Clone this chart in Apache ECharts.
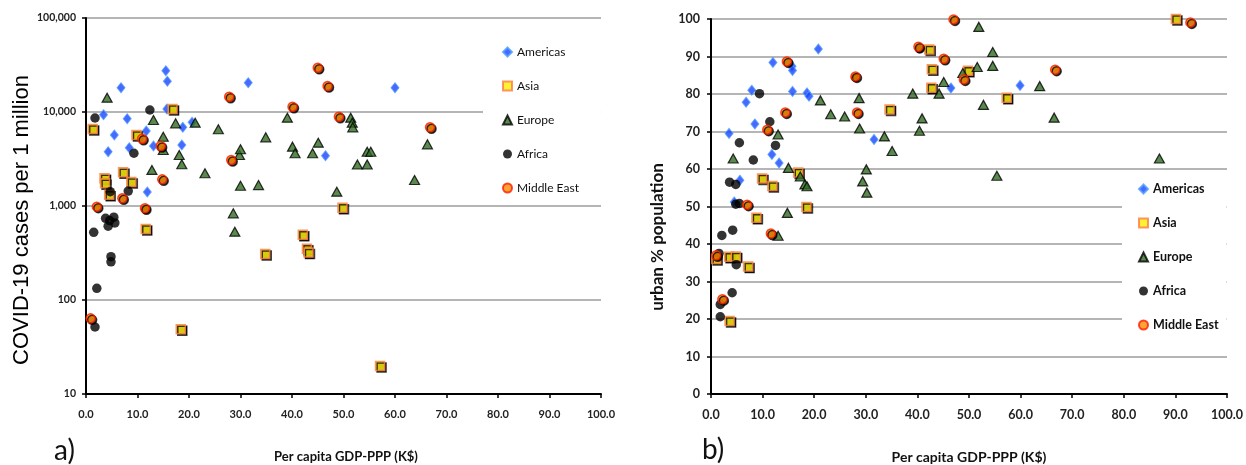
<!DOCTYPE html>
<html>
<head>
<meta charset="utf-8">
<script src="https://cdn.jsdelivr.net/npm/echarts@6/dist/echarts.min.js"></script>
<style>
html,body{margin:0;padding:0;background:#fff;}
#chart{width:1246px;height:465px;}
</style>
</head>
<body>
<div id="chart"></div>
<script>
// ---------- DATA ----------
const regions = ['Americas', 'Asia', 'Europe', 'Africa', 'Middle East'];
const xTickLabels = ['0.0','10.0','20.0','30.0','40.0','50.0','60.0','70.0','80.0','90.0','100.0'];
const leftYTickLabels = ['10','100','1,000','10,000','100,000'];
const rightYTickLabels = ['0','10','20','30','40','50','60','70','80','90','100'];

// panel a) : [GDP-PPP (K$), COVID-19 cases per 1 million]
const casesAmericas = [[3.4,9350],[6.8,18150],[4.3,3780],[5.5,5690],[8.0,8490],[8.4,4170],[11.7,6280],[13.1,4350],[11.9,1410],[15.5,27500],[15.8,21200],[15.7,10760],[18.8,6870],[18.6,4460],[20.6,7770],[31.5,20500],[60.0,18150],[46.5,3430]];
const casesAsia = [[1.3,6590],[3.6,1970],[3.7,1750],[4.5,1320],[9.8,5690],[7.2,2280],[8.8,1800],[16.8,10760],[11.6,569],[18.4,48.8],[34.8,308],[42.1,495],[42.9,350],[43.2,320],[49.8,960],[57.1,19.9]];
const casesEurope = [[4.1,14200],[13.1,8220],[15.0,5460],[15.0,3940],[12.8,2420],[17.4,7580],[18.1,3490],[18.6,2780],[21.2,7700],[23.1,2230],[25.7,6550],[28.6,836],[28.9,533],[29.8,3490],[30.0,4010],[30.0,1640],[33.5,1670],[34.9,5380],[39.1,8700],[40.1,4280],[40.6,3640],[44.0,3640],[45.1,4720],[51.4,8700],[51.7,7700],[51.8,6870],[54.6,3780],[55.3,3780],[52.7,2760],[54.6,2760],[48.7,1420],[63.8,1890],[66.3,4530]];
const casesAfrica = [[1.75,8630],[12.4,10500],[9.3,3640],[4.7,1420],[8.2,1440],[1.5,525],[3.8,740],[4.3,610],[4.6,700],[5.4,760],[5.6,660],[4.85,289],[4.85,255],[2.1,133],[1.75,51.6],[11.6,920]];
const casesMiddleEast = [[2.1,984],[7.05,1208],[10.9,5200],[14.5,4350],[14.8,1920],[11.45,945],[27.8,14550],[28.2,3090],[40.1,11380],[45.0,29600],[46.9,18900],[0.9,63.8],[49.1,8920],[66.8,6870]];

// panel b) : [GDP-PPP (K$), urban % population]
const urbanAmericas = [[3.5,69.5],[7.9,81.0],[6.8,77.8],[8.5,72.0],[12.0,88.4],[11.8,63.9],[13.2,61.6],[15.7,87.4],[15.8,86.3],[15.8,80.7],[18.6,80.3],[19.0,79.4],[20.8,92.0],[31.6,67.9],[5.6,57.0],[4.5,51.2],[46.5,81.6],[59.9,82.3]];
const urbanAsia = [[9.9,57.5],[11.9,55.5],[8.8,47.0],[16.9,59.1],[18.5,49.9],[34.6,75.9],[42.3,91.9],[42.8,86.6],[42.7,81.7],[49.8,86.2],[57.3,79.0],[90.1,100],[1.0,36.0],[3.5,36.6],[4.8,36.7],[7.2,34.0],[3.6,19.5]];
const urbanEurope = [[4.3,62.8],[13.0,69.2],[13.0,42.2],[14.8,48.3],[15.0,60.3],[17.3,58.0],[18.2,55.9],[18.6,55.4],[21.2,78.3],[23.2,74.6],[25.9,74.0],[28.7,78.9],[28.8,70.8],[30.1,59.9],[29.4,56.7],[30.2,53.7],[33.6,68.7],[35.1,64.8],[39.1,80.1],[40.4,70.2],[40.9,73.5],[51.9,97.9],[54.6,91.2],[54.6,87.5],[51.6,87.2],[48.8,85.6],[45.1,83.2],[44.2,80.1],[52.8,77.1],[63.7,82.1],[66.5,73.7],[55.4,58.2],[86.9,62.8]];
const urbanAfrica = [[9.4,80.1],[11.4,72.6],[12.5,66.3],[5.5,67.0],[8.2,62.4],[3.6,56.5],[4.8,55.9],[4.8,50.6],[5.5,50.8],[2.1,42.3],[4.2,43.7],[1.55,37.5],[4.9,34.5],[4.1,27.0],[1.8,23.9],[1.8,20.6],[40.4,92.1],[28.0,84.4]];
const urbanMiddleEast = [[14.7,88.7],[10.9,70.5],[14.4,75.1],[28.0,84.7],[28.3,75.1],[40.2,92.6],[7.0,50.5],[11.6,42.8],[1.0,37.0],[2.2,25.3],[47.0,99.9],[45.1,89.4],[49.0,83.9],[66.7,86.5],[92.9,99.1]];

// ---------- STYLE ----------
const styles = {
  'Americas':   {symbol:'diamond', size:[8,10], item:{color:'#1a44ff', borderColor:'#4f9dff', borderWidth:1}},
  'Asia':       {symbol:'rect', size:9, item:{color:'#ffee00', borderColor:'#ff7a45', borderWidth:1.5, shadowColor:'rgba(0,0,0,0.95)', shadowBlur:0.5, shadowOffsetX:1.5, shadowOffsetY:1.5}},
  'Europe':     {symbol:'triangle', size:[10,9], item:{color:'#2f6b1f', borderColor:'#000', borderWidth:1.2}},
  'Africa':     {symbol:'circle', size:9.5, item:{color:'#000000'}},
  'Middle East':{symbol:'circle', size:9, item:{color:'#ff8c00', borderColor:'#ff1a00', borderWidth:1.5, shadowColor:'rgba(0,0,0,0.95)', shadowBlur:0.5, shadowOffsetX:1.5, shadowOffsetY:1.5}}
};
const leftData = [casesAmericas, casesAsia, casesEurope, casesAfrica, casesMiddleEast];
const rightData = [urbanAmericas, urbanAsia, urbanEurope, urbanAfrica, urbanMiddleEast];

const lato = 'Lato, "Open Sans", sans-serif';
const gridLine = {show:true, lineStyle:{color:'#9c9c9c', width:1.6}};
const axisLine = {show:true, onZero:false, lineStyle:{color:'#000', width:2}};
const axisTick = {show:true, length:4, lineStyle:{color:'#000', width:1.5}};

function makeX(idx, fs, margin){
  return {gridIndex:idx, type:'value', min:0, max:100, interval:10,
    axisLine:axisLine, axisTick:axisTick, splitLine:{show:false},
    axisLabel:{margin:margin, fontFamily:lato, fontWeight:'bold', fontSize:fs, color:'#222',
      formatter:v=>xTickLabels[Math.round(v/10)]}};
}

const series = [];
regions.forEach((r,i)=>{
  const s = styles[r];
  series.push({name:r, type:'scatter', xAxisIndex:0, yAxisIndex:0, data:leftData[i],
    symbol:s.symbol, symbolSize:s.size, itemStyle:s.item, z:2+i});
  series.push({name:r, type:'scatter', xAxisIndex:1, yAxisIndex:1, data:rightData[i],
    symbol:s.symbol, symbolSize:s.size, itemStyle:s.item, z:2+i});
});

const chart = echarts.init(document.getElementById('chart'), null, {renderer:'canvas'});
chart.setOption({
  animation:false,
  backgroundColor:'#ffffff',
  grid:[
    {left:86, top:18, width:515, height:376},
    {left:711, top:19, width:516, height:375}
  ],
  xAxis:[ makeX(0, 11, 15), makeX(1, 12.5, 14) ],
  yAxis:[
    {gridIndex:0, type:'log', logBase:10, min:10, max:100000, splitNumber:4,
     axisLine:axisLine, axisTick:axisTick, splitLine:gridLine,
     axisLabel:{margin:10, fontFamily:lato, fontWeight:'bold', fontSize:10.5, color:'#222',
       formatter:v=>leftYTickLabels[Math.round(Math.log10(v))-1]}},
    {gridIndex:1, type:'value', min:0, max:100, interval:10,
     axisLine:axisLine, axisTick:axisTick, splitLine:gridLine,
     axisLabel:{margin:11, fontFamily:lato, fontWeight:'bold', fontSize:12.5, color:'#222',
       formatter:v=>rightYTickLabels[Math.round(v/10)]}}
  ],
  legend:[
    {data:regions, orient:'vertical', left:483, top:37, itemGap:20, itemWidth:9, itemHeight:9,
     padding:[8,22,8,19], backgroundColor:'#ffffff',
     textStyle:{fontFamily:lato, fontSize:12, color:'#111', lineHeight:14}},
    {data:regions, orient:'vertical', left:1122, top:176, itemGap:20, itemWidth:9, itemHeight:9,
     padding:[6,8,6,16], backgroundColor:'#ffffff',
     textStyle:{fontFamily:lato, fontSize:12.5, fontWeight:'bold', color:'#111', lineHeight:14}}
  ],
  graphic:[
    {type:'text', x:22, y:220, rotation:Math.PI/2,
     style:{text:'COVID-19 cases per 1 million', font:'22px "Liberation Sans", Arial, sans-serif', fill:'#000', align:'center', verticalAlign:'middle'}},
    {type:'text', x:658, y:237, rotation:Math.PI/2,
     style:{text:'urban % population', font:'bold 17px Lato, sans-serif', fill:'#111', align:'center', verticalAlign:'middle'}},
    {type:'text', x:346, y:457,
     style:{text:'Per capita GDP-PPP (K$)', font:'bold 13px Lato, sans-serif', fill:'#111', align:'center', verticalAlign:'middle'}},
    {type:'text', x:969, y:457,
     style:{text:'Per capita GDP-PPP (K$)', font:'bold 14px Lato, sans-serif', fill:'#111', align:'center', verticalAlign:'middle'}},
    {type:'text', x:54, y:451,
     style:{text:'a)', font:'28px Lato, sans-serif', fill:'#111', align:'left', verticalAlign:'middle'}},
    {type:'text', x:702, y:450,
     style:{text:'b)', font:'28px Lato, sans-serif', fill:'#111', align:'left', verticalAlign:'middle'}}
  ],
  series:series
});
</script>
</body>
</html>
